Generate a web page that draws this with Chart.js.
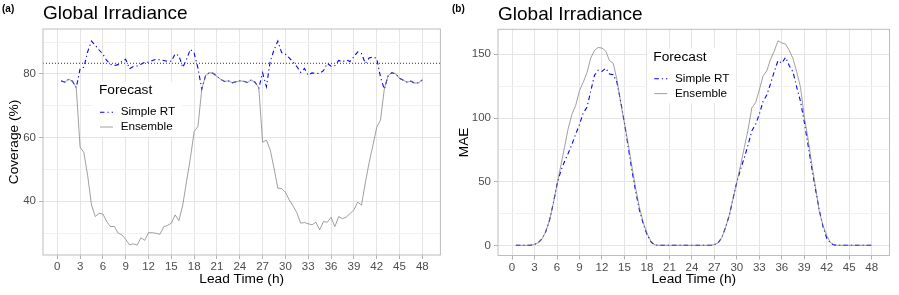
<!DOCTYPE html>
<html>
<head>
<meta charset="utf-8">
<script src="https://cdn.jsdelivr.net/npm/chart.js@4/dist/chart.umd.min.js"></script>
<style>
  html, body { margin: 0; padding: 0; background: #fff; }
  #wrap { position: relative; width: 899px; height: 295px; }
  canvas { position: absolute; top: 0; }
</style>
</head>
<body>
<div id="wrap">
  <canvas id="coverageChart" width="450" height="295" style="left:0"></canvas>
  <canvas id="maeChart" width="449" height="295" style="left:450px"></canvas>
</div>
<script>
// lead times (h), one value every half hour
const leadTime = [
  0.5, 1, 1.5, 2, 2.5, 3, 3.5, 4, 4.5, 5, 5.5, 6, 6.5, 7, 7.5, 8,
  8.5, 9, 9.5, 10, 10.5, 11, 11.5, 12, 12.5, 13, 13.5, 14, 14.5, 15, 15.5, 16,
  16.5, 17, 17.5, 18, 18.5, 19, 19.5, 20, 20.5, 21, 21.5, 22, 22.5, 23, 23.5, 24,
  24.5, 25, 25.5, 26, 26.5, 27, 27.5, 28, 28.5, 29, 29.5, 30, 30.5, 31, 31.5, 32,
  32.5, 33, 33.5, 34, 34.5, 35, 35.5, 36, 36.5, 37, 37.5, 38, 38.5, 39, 39.5, 40,
  40.5, 41, 41.5, 42, 42.5, 43, 43.5, 44, 44.5, 45, 45.5, 46, 46.5, 47, 47.5, 48
];

// (a) coverage (%)
const coverageSimple = [
  77.8, 77.4, 78.3, 77.7, 75.7, 81.6, 82.1, 87.0, 90.3, 89.0, 87.5, 86.2, 84.2, 83.0, 82.6, 82.9,
  83.9, 84.6, 81.6, 82.3, 82.5, 83.0, 83.6, 83.7, 84.2, 84.6, 84.4, 84.2, 83.9, 84.0, 86.3, 85.7,
  82.0, 84.6, 87.7, 86.5, 81.8, 75.2, 79.4, 80.4, 80.2, 79.2, 78.3, 77.6, 77.8, 77.2, 77.5, 77.8,
  77.7, 77.3, 78.1, 77.4, 75.6, 80.3, 76.0, 84.0, 87.5, 90.3, 86.7, 86.2, 85.0, 83.7, 82.3, 80.5,
  81.7, 79.6, 80.3, 80.1, 80.2, 81.0, 83.3, 82.4, 82.6, 84.2, 83.8, 84.4, 83.9, 85.4, 86.9, 86.4,
  83.3, 85.0, 85.3, 84.9, 79.0, 75.2, 79.4, 80.4, 80.0, 78.6, 78.0, 77.4, 77.7, 77.1, 77.2, 78.1
];
const coverageEnsemble = [
  77.8, 77.4, 78.3, 77.7, 75.7, 57.0, 55.3, 48.0, 38.8, 35.2, 36.2, 36.0, 33.6, 32.0, 32.1, 30.0,
  29.4, 28.0, 26.3, 26.6, 26.2, 28.5, 27.7, 30.1, 30.1, 29.9, 29.6, 32.0, 32.4, 33.1, 35.7, 33.9,
  38.8, 46.2, 53.5, 61.9, 63.5, 75.2, 79.4, 80.4, 80.2, 79.2, 78.3, 77.6, 77.8, 77.2, 77.5, 77.8,
  77.7, 77.3, 78.1, 77.4, 75.6, 58.5, 59.2, 56.1, 50.4, 44.1, 44.0, 42.8, 40.4, 38.5, 36.4, 33.1,
  33.3, 32.9, 32.6, 33.4, 31.0, 33.6, 33.4, 34.9, 32.0, 35.2, 34.5, 35.0, 36.1, 37.3, 39.7, 38.8,
  45.7, 52.1, 57.5, 63.2, 65.5, 75.2, 79.4, 80.4, 80.0, 78.6, 78.0, 77.4, 77.7, 77.1, 77.2, 78.1
];
const nominalCoverage = 83.33;

// (b) MAE
const maeSimple = [
  0.4, 0.4, 0.4, 0.4, 0.5, 1.0, 2.4, 5.5, 11, 20, 33, 48, 58.5, 66, 72.5, 79.5,
  87.5, 95, 104, 108.5, 121, 133.5, 137.5, 136.5, 139, 134.5, 134, 128, 113, 96, 77.5, 59,
  42.5, 28, 17.5, 9, 3.5, 0.7, 0.4, 0.4, 0.4, 0.4, 0.4, 0.4, 0.4, 0.4, 0.4, 0.4,
  0.4, 0.4, 0.4, 0.4, 0.4, 0.9, 2.3, 6.5, 14.5, 24, 37, 50, 60, 69, 79, 90,
  95, 103, 113, 118, 127, 136.5, 145, 143, 147.5, 141, 136, 124, 113, 97, 79, 61,
  44, 28, 15, 6, 2, 0.6, 0.4, 0.4, 0.4, 0.4, 0.4, 0.4, 0.4, 0.4, 0.4, 0.4
];
const maeEnsemble = [
  0.4, 0.4, 0.4, 0.4, 0.5, 1.0, 2.4, 5.5, 11, 20, 33, 48, 62.5, 77, 92, 103,
  110, 121.5, 128, 135.5, 147, 153, 155.3, 154.8, 152.5, 145, 143, 130, 112, 96, 80, 62,
  45, 30, 18.5, 10, 4, 0.8, 0.4, 0.4, 0.4, 0.4, 0.4, 0.4, 0.4, 0.4, 0.4, 0.4,
  0.4, 0.4, 0.4, 0.4, 0.4, 0.9, 2.3, 6.5, 14.5, 24, 37, 50, 63, 77, 91, 108,
  112, 122, 133, 137, 146, 152.5, 160.5, 158.8, 158, 153, 146.5, 136, 124, 101, 84, 64,
  46, 27, 16, 8, 2.5, 0.6, 0.4, 0.4, 0.4, 0.4, 0.4, 0.4, 0.4, 0.4, 0.4, 0.4
];

// axes
const xTicks = [0, 3, 6, 9, 12, 15, 18, 21, 24, 27, 30, 33, 36, 39, 42, 45, 48];
const coverageTicks = [30, 40, 50, 60, 70, 80, 90];
const coverageLabels = [40, 60, 80];
const maeTicks = [0, 25, 50, 75, 100, 125, 150];
const maeLabels = [0, 50, 100, 150];
const xMin = -1.875, xMax = 50.375;

Chart.defaults.font.family = "'Liberation Sans', Arial, sans-serif";
Chart.defaults.color = '#000';

const pts = ys => ys.map((y, i) => ({ x: leadTime[i], y }));

// panel border, legend inside the panel and (a)/(b) tag
const panelDeco = {
  id: 'panelDeco',
  afterDatasetsDraw(chart, args, o) {
    const { ctx, chartArea: a } = chart;
    ctx.save();
    ctx.strokeStyle = '#bdbdbd';
    ctx.lineWidth = 1;
    ctx.strokeRect(a.left, a.top, a.right - a.left, a.bottom - a.top);

    const x = a.left + o.legendX, y = a.top + o.legendY;
    ctx.fillStyle = '#fff';
    ctx.fillRect(x - 6, y - 9, 89, 55);
    ctx.fillStyle = '#000';
    ctx.textBaseline = 'middle';
    ctx.font = "13.7px 'Liberation Sans'";
    ctx.fillText('Forecast', x, y);
    ctx.font = "11.7px 'Liberation Sans'";
    chart.data.datasets.filter(d => !d.noLegend).forEach((d, i) => {
      const ly = y + 21.5 + i * 14.8;
      ctx.strokeStyle = d.borderColor;
      ctx.lineWidth = d.borderWidth;
      ctx.setLineDash(d.borderDash || []);
      ctx.beginPath();
      ctx.moveTo(x + 1, ly);
      ctx.lineTo(x + 14, ly);
      ctx.stroke();
      ctx.setLineDash([]);
      ctx.fillText(d.label, x + 21.7, ly);
    });

    ctx.font = "bold 10px 'Liberation Sans'";
    ctx.fillText(o.tag, 2, 9);
    ctx.restore();
  }
};

const simpleStyle = { borderColor: '#0000ff', borderWidth: 1.1, borderDash: [4.5, 3, 1.2, 3] };
const ensembleStyle = { borderColor: 'rgba(120,120,120,0.7)', borderWidth: 1 };

function makeChart(id, opt) {
  const datasets = [
    { label: 'Simple RT', data: pts(opt.simple), order: 1, ...simpleStyle },
    { label: 'Ensemble', data: pts(opt.ensemble), order: 0, ...ensembleStyle }
  ];
  if (opt.nominal !== undefined) {
    datasets.push({
      label: 'nominal', noLegend: true, order: 2,
      data: [{ x: xMin, y: opt.nominal }, { x: xMax, y: opt.nominal }],
      borderColor: '#333', borderWidth: 1, borderDash: [1, 2]
    });
  }
  return new Chart(document.getElementById(id), {
    type: 'line',
    data: { datasets },
    options: {
      responsive: false,
      animation: false,
      parsing: false,
      elements: { point: { radius: 0 }, line: { tension: 0 } },
      layout: { padding: { left: 0, right: opt.padRight, top: 0, bottom: 0 } },
      plugins: {
        legend: { display: false },
        tooltip: { enabled: false },
        title: {
          display: true, text: 'Global Irradiance', align: 'start', fullSize: false,
          color: '#000', font: { size: 19, weight: 'normal' },
          padding: { top: opt.titleTop, bottom: 3.6 }
        },
        panelDeco: { legendX: opt.legendX, legendY: opt.legendY, tag: opt.tag }
      },
      scales: {
        x: {
          type: 'linear', min: xMin, max: xMax,
          afterBuildTicks: s => { s.ticks = xTicks.map(v => ({ value: v })); },
          afterFit: s => { s.height = opt.xHeight; },
          border: { display: false },
          grid: { color: '#e4e4e4', lineWidth: 1, tickLength: 4, tickColor: '#b3b3b3' },
          ticks: { color: '#4d4d4d', font: { size: 11.5 }, padding: 1, maxRotation: 0, autoSkip: false },
          title: {
            display: true, text: 'Lead Time (h)', color: '#000',
            font: { size: 13.7 }, padding: { top: 0, bottom: 7.5 }
          }
        },
        y: {
          type: 'linear', min: opt.yMin, max: opt.yMax,
          afterBuildTicks: s => { s.ticks = opt.yTicks.map(v => ({ value: v })); },
          afterFit: s => { s.width = opt.yWidth; },
          border: { display: false },
          grid: {
            color: c => opt.yLabels.includes(c.tick.value) ? '#e4e4e4' : '#f1f1f1',
            tickColor: c => opt.yLabels.includes(c.tick.value) ? '#b3b3b3' : 'rgba(0,0,0,0)',
            lineWidth: 1, tickLength: 4
          },
          ticks: {
            color: '#4d4d4d', font: { size: 11.5 }, padding: 3,
            callback: v => opt.yLabels.includes(v) ? v : ''
          },
          title: {
            display: true, text: opt.yTitle, color: '#000',
            font: { size: 13.7 }, padding: { top: 6, bottom: 0 }
          }
        }
      }
    },
    plugins: [panelDeco]
  });
}

makeChart('coverageChart', {
  simple: coverageSimple, ensemble: coverageEnsemble, nominal: nominalCoverage,
  yMin: 23.1, yMax: 94.1, yTicks: coverageTicks, yLabels: coverageLabels,
  yTitle: 'Coverage (%)', yWidth: 43, padRight: 9.6, xHeight: 40, titleTop: 2.6,
  legendX: 56, legendY: 61.7, tag: '(a)'
});

makeChart('maeChart', {
  simple: maeSimple, ensemble: maeEnsemble,
  yMin: -7.6, yMax: 169.5, yTicks: maeTicks, yLabels: maeLabels,
  yTitle: 'MAE', yWidth: 48, padRight: 9.5, xHeight: 39.5, titleTop: 2.9,
  legendX: 155.3, legendY: 28, tag: '(b)'
});
</script>
</body>
</html>
